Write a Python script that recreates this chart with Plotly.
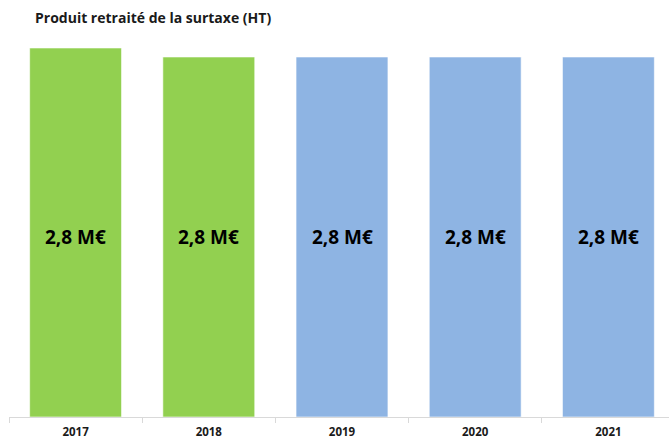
import plotly.graph_objects as go

years = ["2017", "2018", "2019", "2020", "2021"]
values = [2.87, 2.80, 2.80, 2.80, 2.80]
labels = ["2,8 M€", "2,8 M€", "2,8 M€", "2,8 M€", "2,8 M€"]
colors = ["#92D050", "#92D050", "#8EB4E3", "#8EB4E3", "#8EB4E3"]

fig = go.Figure()
fig.add_trace(go.Bar(
    x=years, y=values,
    marker=dict(color=colors, line=dict(color="rgba(255,255,255,0.6)", width=1)),
    hoverinfo="skip",
))
for i, lab in enumerate(labels):
    fig.add_annotation(x=i, y=1.40, text="<b>" + lab + "</b>", showarrow=False,
                       font=dict(family="Open Sans", size=19, color="#000000"),
                       xref="x", yref="y")

fig.update_layout(
    width=669, height=439,
    margin=dict(l=9, r=0, t=40, b=22),
    paper_bgcolor="white", plot_bgcolor="white",
    bargap=0.31,
    showlegend=False,
    title=dict(text="<b>Produit retraité de la surtaxe (HT)</b>", x=35/669, xanchor="left",
               y=1 - 18/439, yanchor="middle",
               font=dict(family="Open Sans", size=14, color="#1a1a1a")),
    xaxis=dict(type="category", range=[-0.5, 4.455], showline=True, linecolor="#D9D9D9",
               linewidth=1, ticks="outside", tickson="boundaries", ticklen=5, tickcolor="#D9D9D9",
               ticklabelstandoff=4,
               tickfont=dict(family="Open Sans", size=11.5, color="#1a1a1a", weight="bold"),
               showgrid=False, fixedrange=True),
    yaxis=dict(range=[0, 2.932], visible=False, showgrid=False, fixedrange=True),
)
fig.write_html("out.html", config={"displayModeBar": False},
               post_script="document.body.style.margin='0';document.body.style.overflow='hidden';")
